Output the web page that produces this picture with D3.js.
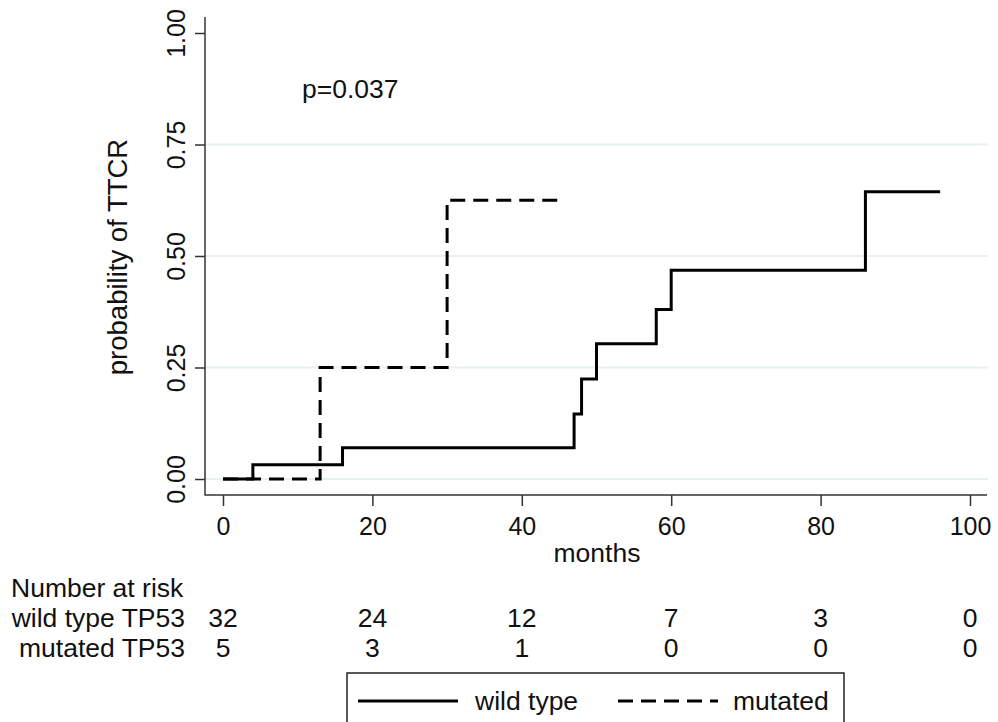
<!DOCTYPE html>
<html lang="en">
<head>
  <meta charset="UTF-8">
  <title>Probability of TTCR by TP53 status</title>
  <style>
    html, body {
      margin: 0;
      padding: 0;
      overflow: hidden;
      background-color: #fff;
      font-family: 'Liberation Sans', Arial, sans-serif;
    }
    svg {
      display: block;
    }
  </style>
</head>
<body>
<svg></svg>
<script src="https://d3js.org/d3.v7.min.js"></script>
<script>
const width = 998;
const height = 722;

// Step curves: [months, cumulative probability]
const wildType = [[0, 0], [4, 0.032], [16, 0.07], [47, 0.146], [48, 0.224], [50, 0.303], [58, 0.38], [60, 0.468], [86, 0.644], [96, 0.644]];
const mutated = [[0, 0], [13, 0.25], [30, 0.625], [45, 0.625]];

const xTicks = [0, 20, 40, 60, 80, 100];
const yTicks = [0, 0.25, 0.5, 0.75, 1];
const gridTicks = [0, 0.25, 0.5, 0.75];

const riskTimes = [0, 20, 40, 60, 80, 100];
const riskWild = [32, 24, 12, 7, 3, 0];
const riskMut = [5, 3, 1, 0, 0, 0];

const svg = d3.select("svg").attr("width", width).attr("height", height);

const x = d3.scaleLinear().domain([0, 100]).range([223, 970]);
const y = d3.scaleLinear().domain([0, 1]).range([479, 33]);

const axisLeft = 205, axisBottom = 495;

// grid lines
svg.selectAll(".grid")
  .data(gridTicks)
  .enter().append("line")
  .attr("x1", axisLeft).attr("x2", 988)
  .attr("y1", d => y(d)).attr("y2", d => y(d))
  .attr("stroke", "#e8f0f1").attr("stroke-width", 2);

// y axis
const yAxis = svg.append("g")
  .attr("transform", `translate(${axisLeft},0)`)
  .call(d3.axisLeft(y).tickValues(yTicks).tickFormat(d3.format(".2f")).tickSize(10).tickSizeOuter(0));
yAxis.select(".domain").remove();
yAxis.append("line").attr("x1", 0).attr("x2", 0).attr("y1", 17).attr("y2", axisBottom + 0.5)
  .attr("stroke", "#333").attr("stroke-width", 1.5);
yAxis.selectAll(".tick line").attr("stroke", "#333").attr("stroke-width", 1.5);
yAxis.selectAll(".tick text")
  .attr("x", null).attr("dy", null)
  .attr("transform", "translate(-20,0) rotate(-90)")
  .attr("text-anchor", "middle")
  .attr("fill", "#111")
  .style("font-size", "25px")
  .style("font-family", "'Liberation Sans', Arial, sans-serif");

// x axis
const xAxis = svg.append("g")
  .attr("transform", `translate(0,${axisBottom})`)
  .call(d3.axisBottom(x).tickValues(xTicks).tickSize(11).tickSizeOuter(0));
xAxis.select(".domain").remove();
xAxis.append("line").attr("x1", axisLeft).attr("x2", 987).attr("y1", 0).attr("y2", 0)
  .attr("stroke", "#333").attr("stroke-width", 1.5);
xAxis.selectAll(".tick line").attr("stroke", "#333").attr("stroke-width", 1.5);
xAxis.selectAll(".tick text")
  .attr("y", 40).attr("dy", null)
  .attr("fill", "#111")
  .style("font-size", "25px")
  .style("font-family", "'Liberation Sans', Arial, sans-serif");

// step lines
const line = d3.line()
  .x(d => x(d[0]))
  .y(d => y(d[1]))
  .curve(d3.curveStepAfter);

svg.append("path")
  .datum(wildType)
  .attr("d", line)
  .attr("fill", "none")
  .attr("stroke", "#000")
  .attr("stroke-width", 3);

svg.append("path")
  .datum(mutated)
  .attr("d", line)
  .attr("fill", "none")
  .attr("stroke", "#000")
  .attr("stroke-width", 3)
  .attr("stroke-dasharray", "15,8");

// labels
const txt = (sel) => sel.attr("fill", "#111").style("font-size", "26.5px");

svg.append("text").attr("x", 302).attr("y", 98).text("p=0.037").call(txt);
svg.append("text").attr("x", 597).attr("y", 562).attr("text-anchor", "middle").text("months").call(txt);
svg.append("text")
  .attr("transform", "translate(127,257) rotate(-90)")
  .attr("text-anchor", "middle")
  .text("probability of TTCR").call(txt)
  .style("font-size", "27.5px");

// number at risk table
svg.append("text").attr("x", 11).attr("y", 597).text("Number at risk").call(txt);
svg.append("text").attr("x", 185).attr("y", 627).attr("text-anchor", "end").text("wild type TP53").call(txt);
svg.append("text").attr("x", 185).attr("y", 657).attr("text-anchor", "end").text("mutated TP53").call(txt);

svg.selectAll(".riskWild")
  .data(riskWild)
  .enter().append("text")
  .attr("x", (d, i) => x(riskTimes[i]))
  .attr("y", 627)
  .attr("text-anchor", "middle")
  .text(d => d).call(txt);

svg.selectAll(".riskMut")
  .data(riskMut)
  .enter().append("text")
  .attr("x", (d, i) => x(riskTimes[i]))
  .attr("y", 657)
  .attr("text-anchor", "middle")
  .text(d => d).call(txt);

// legend
const legend = svg.append("g");
legend.append("rect")
  .attr("x", 347).attr("y", 673).attr("width", 497).attr("height", 80)
  .attr("fill", "#fff").attr("stroke", "#222").attr("stroke-width", 1.5);
legend.append("line").attr("x1", 358).attr("x2", 458).attr("y1", 701).attr("y2", 701)
  .attr("stroke", "#000").attr("stroke-width", 3);
legend.append("text").attr("x", 475).attr("y", 710).text("wild type").call(txt);
legend.append("line").attr("x1", 618).attr("x2", 718).attr("y1", 701).attr("y2", 701)
  .attr("stroke", "#000").attr("stroke-width", 3).attr("stroke-dasharray", "15,8");
legend.append("text").attr("x", 733).attr("y", 710).text("mutated").call(txt);
</script>
</body>
</html>
